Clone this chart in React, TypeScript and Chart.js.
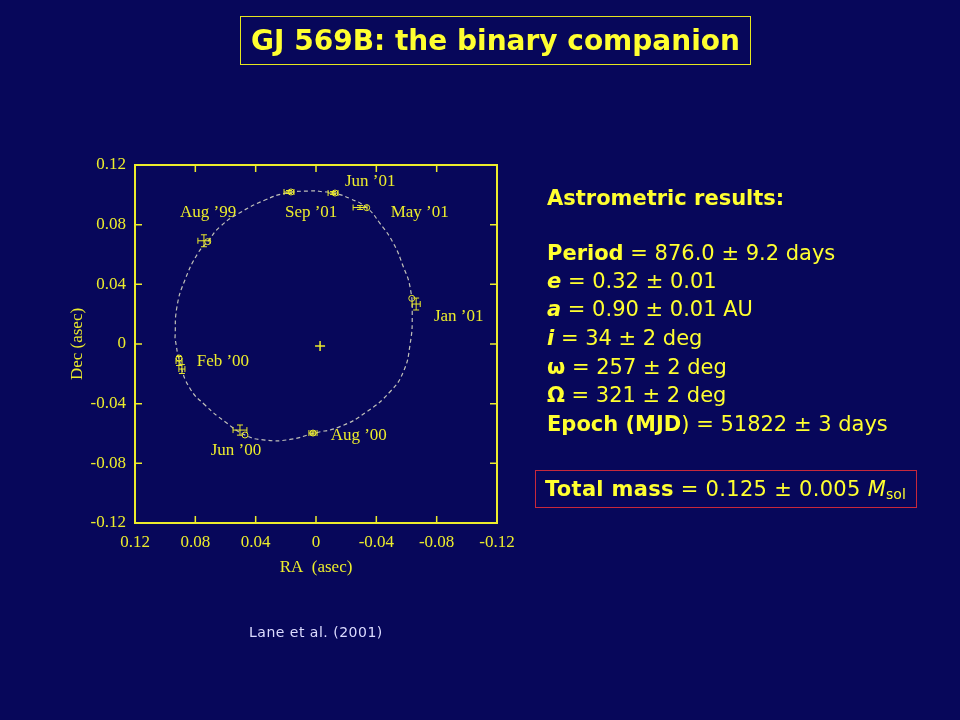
import React, { useEffect, useRef } from 'react';
import { Chart, registerables } from 'chart.js';

Chart.register(...registerables);

// ---------- data (arcseconds) ----------
// Fitted orbit, points
const ORBIT_RA = [0.0935, 0.0922, 0.0869, 0.0782, 0.0718, 0.0637, 0.0493, 0.0338, 0.0206, 0.0040, -0.0048, -0.0126, -0.0225, -0.0336, -0.0424, -0.0513, -0.0579, -0.0623, -0.0638, -0.0623, -0.0579, -0.0491, -0.0336, -0.0159, 0.0018, 0.0172, 0.0338, 0.0471, 0.0603, 0.0736, 0.0836, 0.0902, 0.0935];
const ORBIT_DEC = [0.0038, 0.0248, 0.0429, 0.0610, 0.0686, 0.0786, 0.0887, 0.0965, 0.1010, 0.1026, 0.1021, 0.1010, 0.0975, 0.0914, 0.0809, 0.0675, 0.0518, 0.0384, 0.0200, -0.0007, -0.0186, -0.0320, -0.0454, -0.0554, -0.0599, -0.0640, -0.0644, -0.0610, -0.0521, -0.0409, -0.0297, -0.0127, 0.0038];

// Predicted positions (open circles)
const PRED_RA = [0.0718, 0.0166, -0.0126, -0.0336, -0.0635, 0.0908, 0.0471, 0.0020];
const PRED_DEC = [0.0686, 0.1019, 0.1012, 0.0914, 0.0306, -0.0094, -0.0610, -0.0597];

// Measured positions with error bars
const OBS_RA = [0.0743, 0.0179, -0.0113, -0.0292, -0.0664, 0.0908, 0.0889, 0.0504, 0.0020];
const OBS_DEC = [0.0692, 0.1019, 0.1012, 0.0915, 0.0268, -0.0114, -0.0168, -0.0577, -0.0597];
const OBS_ERR_RA = [0.0040, 0.0033, 0.0033, 0.0046, 0.0027, 0.0020, 0.0020, 0.0046, 0.0027];
const OBS_ERR_DEC = [0.0040, 0.0010, 0.0010, 0.0013, 0.0040, 0.0030, 0.0030, 0.0034, 0.0013];

// Primary star
const PRIMARY_RA = [-0.0027];
const PRIMARY_DEC = [-0.0013];

// Epoch annotations
const EPOCH_LABELS = ['Aug ’99', 'Sep ’01', 'Jun ’01', 'May ’01', 'Jan ’01', 'Feb ’00', 'Jun ’00', 'Aug ’00'];
const EPOCH_LABEL_RA = [0.0902, 0.0206, -0.0192, -0.0495, -0.0782, 0.0791, 0.0698, -0.0097];
const EPOCH_LABEL_DEC = [0.0853, 0.0853, 0.1061, 0.0853, 0.0156, -0.0147, -0.0744, -0.0643];

const TICK_VALUES = [-0.12, -0.08, -0.04, 0, 0.04, 0.08, 0.12];

const RESULT_LINES: { parts: [string, string][]; baseline: number }[] = [
  { parts: [['b', 'Period'], ['r', ' = 876.0 ± 9.2 days']], baseline: 260 },
  { parts: [['bi', 'e'], ['r', ' = 0.32 ± 0.01']], baseline: 288 },
  { parts: [['bi', 'a'], ['r', ' = 0.90 ± 0.01 AU']], baseline: 316 },
  { parts: [['bi', 'i'], ['r', ' = 34 ± 2 deg']], baseline: 345 },
  { parts: [['b', 'ω'], ['r', ' = 257 ± 2 deg']], baseline: 374 },
  { parts: [['b', 'Ω'], ['r', ' = 321 ± 2 deg']], baseline: 402 },
  { parts: [['b', 'Epoch (MJD'], ['r', ') = 51822 ± 3 days']], baseline: 431 },
];

// ---------- styles ----------
const BG = '#07075a';
const PLOT_YELLOW = '#ecec2c';
const TEXT_YELLOW = '#ffff30';
const SERIF = '"Liberation Serif", "Times New Roman", serif';
const SANS = '"DejaVu Sans", sans-serif';

const fmtTick = (v: number | string) => {
  const n = Number(v);
  if (Math.abs(n) < 1e-9) return '0';
  return n.toFixed(2);
};

const framePlugin = {
  id: 'frameTicks',
  afterDraw(chart: any) {
    const { ctx, chartArea: a, scales } = chart;
    const xs = scales.x, ys = scales.y;
    ctx.save();
    ctx.strokeStyle = PLOT_YELLOW;
    ctx.lineWidth = 2;
    ctx.strokeRect(a.left, a.top, a.right - a.left, a.bottom - a.top);
    ctx.lineWidth = 1.5;
    ctx.beginPath();
    for (const v of TICK_VALUES) {
      if (Math.abs(v) > 0.11) continue;
      const px = xs.getPixelForValue(v);
      ctx.moveTo(px, a.bottom); ctx.lineTo(px, a.bottom - 7);
      ctx.moveTo(px, a.top); ctx.lineTo(px, a.top + 7);
      const py = ys.getPixelForValue(v);
      ctx.moveTo(a.left, py); ctx.lineTo(a.left + 7, py);
      ctx.moveTo(a.right, py); ctx.lineTo(a.right - 7, py);
    }
    ctx.stroke();
    ctx.restore();
  },
};

const errorBarPlugin = {
  id: 'errorBars',
  afterDatasetsDraw(chart: any) {
    const { ctx, scales } = chart;
    const xs = scales.x, ys = scales.y;
    ctx.save();
    ctx.strokeStyle = PLOT_YELLOW;
    ctx.lineWidth = 1;
    ctx.beginPath();
    const cap = 3;
    for (let i = 0; i < OBS_RA.length; i++) {
      const px = xs.getPixelForValue(OBS_RA[i]);
      const py = ys.getPixelForValue(OBS_DEC[i]);
      const x1 = xs.getPixelForValue(OBS_RA[i] - OBS_ERR_RA[i]);
      const x2 = xs.getPixelForValue(OBS_RA[i] + OBS_ERR_RA[i]);
      const y1 = ys.getPixelForValue(OBS_DEC[i] - OBS_ERR_DEC[i]);
      const y2 = ys.getPixelForValue(OBS_DEC[i] + OBS_ERR_DEC[i]);
      ctx.moveTo(x1, py); ctx.lineTo(x2, py);
      ctx.moveTo(x1, py - cap); ctx.lineTo(x1, py + cap);
      ctx.moveTo(x2, py - cap); ctx.lineTo(x2, py + cap);
      ctx.moveTo(px, y1); ctx.lineTo(px, y2);
      ctx.moveTo(px - cap, y1); ctx.lineTo(px + cap, y1);
      ctx.moveTo(px - cap, y2); ctx.lineTo(px + cap, y2);
    }
    ctx.stroke();

    ctx.fillStyle = PLOT_YELLOW;
    ctx.font = `17px ${SERIF}`;
    ctx.textAlign = 'left';
    ctx.textBaseline = 'alphabetic';
    for (let i = 0; i < EPOCH_LABELS.length; i++) {
      ctx.fillText(
        EPOCH_LABELS[i],
        xs.getPixelForValue(EPOCH_LABEL_RA[i]),
        ys.getPixelForValue(EPOCH_LABEL_DEC[i])
      );
    }
    ctx.restore();
  },
};

export default function App() {
  const ref = useRef<HTMLCanvasElement>(null);

  useEffect(() => {
    document.body.style.background = BG;
    const canvas = ref.current;
    if (!canvas) return;
    const chart = new Chart(canvas, {
      type: 'scatter',
      data: {
        datasets: [
          {
            type: 'line',
            label: 'orbit',
            data: ORBIT_RA.map((x, i) => ({ x, y: ORBIT_DEC[i] })),
            tension: 0.5,
            cubicInterpolationMode: 'default',
            capBezierPoints: false,
            fill: false,
            borderColor: '#c0c0b8',
            borderWidth: 1.2,
            borderDash: [4, 3],
            pointRadius: 0,
            order: 10,
          },
          {
            label: 'predicted',
            data: PRED_RA.map((x, i) => ({ x, y: PRED_DEC[i] })),
            pointStyle: 'circle',
            pointRadius: 3,
            borderColor: PLOT_YELLOW,
            backgroundColor: 'rgba(0,0,0,0)',
            borderWidth: 1,
            order: 1,
          },
          {
            label: 'measured',
            data: OBS_RA.map((x, i) => ({ x, y: OBS_DEC[i] })),
            pointRadius: 0,
            order: 1,
          },
          {
            label: 'primary',
            data: PRIMARY_RA.map((x, i) => ({ x, y: PRIMARY_DEC[i] })),
            pointStyle: 'cross',
            pointRadius: 5,
            borderColor: PLOT_YELLOW,
            borderWidth: 1.5,
            order: 1,
          },
        ],
      },
      options: {
        responsive: false,
        animation: false,
        devicePixelRatio: 1,
        layout: { padding: { left: 0, top: 165, right: 463, bottom: 137 } },
        plugins: { legend: { display: false }, tooltip: { enabled: false }, title: { display: false } },
        scales: {
          x: {
            type: 'linear',
            reverse: true,
            min: -0.12,
            max: 0.12,
            afterBuildTicks: (s: any) => { s.ticks = TICK_VALUES.map((v) => ({ value: v })); },
            afterFit: (s: any) => { s.height = 60; },
            grid: { display: false, drawTicks: false },
            border: { display: false },
            ticks: {
              color: PLOT_YELLOW,
              font: { family: SERIF, size: 17 },
              padding: 9,
              autoSkip: false,
              maxRotation: 0,
              callback: (v: any) => fmtTick(v),
            },
            title: {
              display: true,
              text: 'RA  (asec)',
              color: PLOT_YELLOW,
              font: { family: SERIF, size: 17 },
              padding: { top: 0, bottom: 5 },
            },
          },
          y: {
            type: 'linear',
            min: -0.12,
            max: 0.12,
            afterBuildTicks: (s: any) => { s.ticks = TICK_VALUES.map((v) => ({ value: v })); },
            afterFit: (s: any) => { s.width = 135; },
            grid: { display: false, drawTicks: false },
            border: { display: false },
            ticks: {
              color: PLOT_YELLOW,
              font: { family: SERIF, size: 17 },
              padding: 9,
              autoSkip: false,
              callback: (v: any) => fmtTick(v),
            },
            title: {
              display: true,
              text: 'Dec (asec)',
              color: PLOT_YELLOW,
              font: { family: SERIF, size: 17 },
              padding: { top: 67, bottom: 0 },
            },
          },
        },
      },
      plugins: [framePlugin, errorBarPlugin],
    } as any);
    return () => chart.destroy();
  }, []);

  const partStyle = (k: string): React.CSSProperties => ({
    fontWeight: k.includes('b') ? 'bold' : 'normal',
    fontStyle: k.includes('i') ? 'italic' : 'normal',
  });

  return (
    <div style={{ position: 'absolute', left: 0, top: 0, width: 960, height: 720, background: BG, overflow: 'hidden' }}>
      <canvas ref={ref} width={960} height={720} style={{ position: 'absolute', left: 0, top: 0, width: 960, height: 720 }} />

      <div
        style={{
          position: 'absolute', left: 240, top: 16, width: 511, height: 49, boxSizing: 'border-box',
          border: '1px solid #e6e61e', display: 'flex', alignItems: 'center', justifyContent: 'center',
          fontFamily: SANS, fontWeight: 'bold', fontSize: 28, color: TEXT_YELLOW, whiteSpace: 'nowrap',
        }}
      >
        GJ 569B: the binary companion
      </div>

      <div style={{ position: 'absolute', left: 547, top: 205 - 21.3, fontFamily: SANS, fontSize: 21, lineHeight: '28px', fontWeight: 'bold', color: TEXT_YELLOW, whiteSpace: 'nowrap' }}>
        Astrometric results:
      </div>

      {RESULT_LINES.map((line, idx) => (
        <div key={idx} style={{ position: 'absolute', left: 547, top: line.baseline - 21.3, fontFamily: SANS, fontSize: 21, lineHeight: '28px', color: TEXT_YELLOW, whiteSpace: 'pre' }}>
          {line.parts.map(([k, t], j) => (
            <span key={j} style={partStyle(k)}>{t}</span>
          ))}
        </div>
      ))}

      <div
        style={{
          position: 'absolute', left: 535, top: 470, width: 382, height: 38, boxSizing: 'border-box',
          border: '1px solid #c8283c', paddingLeft: 9, fontFamily: SANS, fontSize: 21, lineHeight: '36px',
          color: TEXT_YELLOW, whiteSpace: 'pre', letterSpacing: '0.3px',
        }}
      >
        <span style={{ fontWeight: 'bold' }}>Total mass</span>
        <span>{' = 0.125 ± 0.005 '}</span>
        <span style={{ fontStyle: 'italic' }}>M</span>
        <span style={{ fontSize: 14, verticalAlign: '-3px', letterSpacing: 0 }}>sol</span>
      </div>

      <div style={{ position: 'absolute', left: 249, top: 624, fontFamily: SANS, fontSize: 14, lineHeight: '16px', color: '#dcdcff', whiteSpace: 'nowrap', letterSpacing: '0.5px' }}>
        Lane et al. (2001)
      </div>
    </div>
  );
}
